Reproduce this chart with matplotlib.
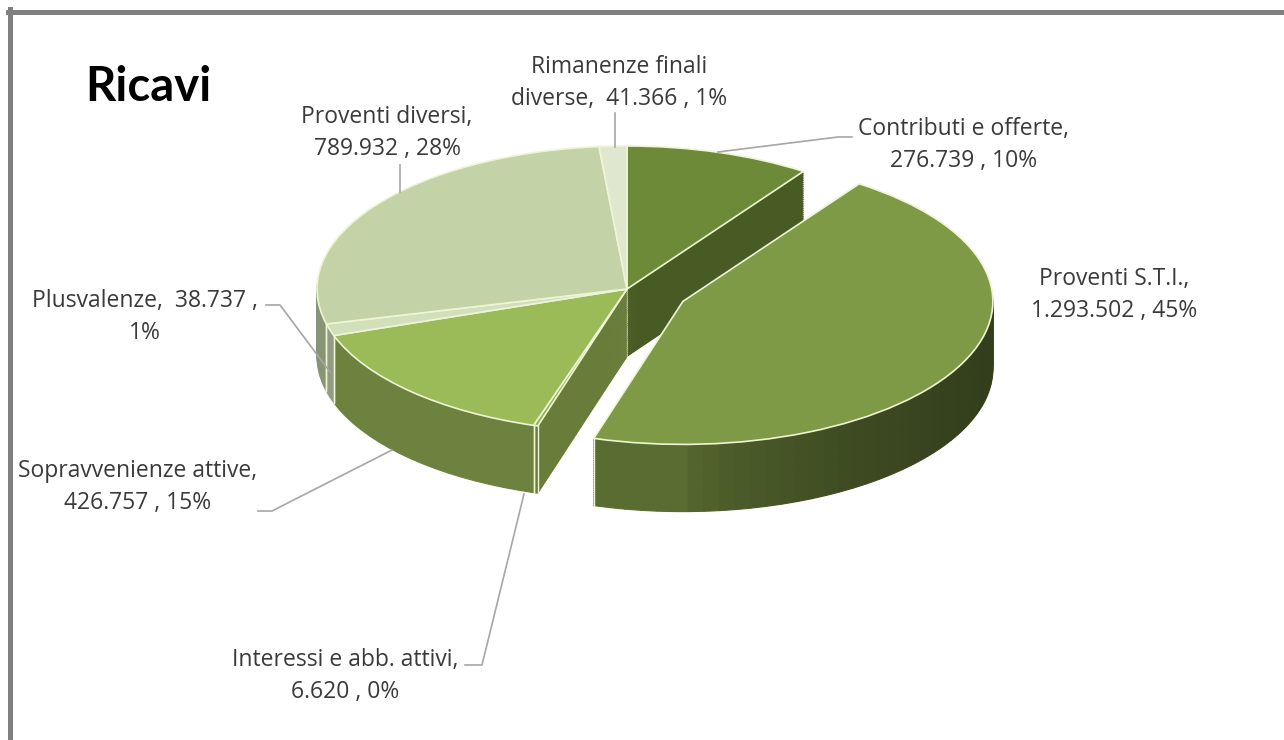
import numpy as np
import matplotlib.pyplot as plt
from matplotlib.patches import Wedge
from matplotlib.collections import PatchCollection
from matplotlib.lines import Line2D
from matplotlib.colors import to_rgb

# data
names = ['Contributi e offerte', 'Proventi S.T.I.', 'Interessi e abb. attivi',
         'Sopravvenienze attive', 'Plusvalenze', 'Proventi diversi',
         'Rimanenze finali\ndiverse']
values = [276739, 1293502, 6620, 426757, 38737, 789932, 41366]
percents = ['10%', '45%', '0%', '15%', '1%', '28%', '1%']
explode = [0, 0.2, 0, 0, 0, 0, 0]

top_colors = ['#6d8a38', '#7f9a46', '#94b352', '#9bba58', '#d2dfbb', '#c4d3a7', '#dfe8cf']
edge_color = '#eef5d4'
text_color = '#3a3a3a'
leader_color = '#a6a6a6'

label_fmt = ['{n},\n{v} , {p}', '{n},\n{v} , {p}', '{n},\n{v} , {p}', '{n},\n{v} , {p}',
             '{n},  {v} ,\n{p}', '{n},\n{v} , {p}', '{n},  {v} , {p}']
# label centres and leader paths, in pixels of the 1284x740 picture
label_pos = [(964, 145), (1114, 295), (345, 676), (138, 487), (145, 317), (387, 133), (619, 83)]
leaders = [[(852, 137), (838, 137), (718, 152)],
           None,
           [(465, 665), (482, 665), (524, 494)],
           [(258, 511), (272, 511), (392, 450)],
           [(266, 305), (280, 305), (330, 372)],
           [(400, 165), (400, 192)],
           [(615, 113), (615, 147)]]

W, H = 1284, 740
CX, CY = 627, 289      # pie centre in pixels
SX, SY = 310, 143      # pixel size of one radius, across and down
DEPTH = 0.47           # thickness of the pie, in radius units
N_LAYERS = 36


def px(x, y):
    return (x - CX) / SX, (CY - y) / SY


def shade(phi):
    c = max(np.cos(phi), 0) ** 0.6
    s = max(np.sin(phi), 0)
    return 0.7 - 0.3 * c + 0.2 * s


def fmt_value(v):
    return f"{v:,}".replace(',', '.')


fig = plt.figure(figsize=(W / 100, H / 100), dpi=100)
ax = fig.add_axes([0, 0, 1, 1])

total = float(sum(values))
cum = np.concatenate([[0], np.cumsum(values) / total])

# side walls, built as stacked layers of thin wedges
slices = []
for i in range(len(values)):
    t1 = 90 - cum[i + 1] * 360
    t2 = 90 - cum[i] * 360
    mid = np.radians((t1 + t2) / 2)
    ox, oy = explode[i] * np.cos(mid), explode[i] * np.sin(mid)
    slices.append((t1, t2, ox, oy))

for group in ([i for i in range(len(values)) if explode[i] == 0],
              [i for i in range(len(values)) if explode[i] != 0]):
    for dz in np.linspace(DEPTH, 0, N_LAYERS, endpoint=False):
        patches, cols = [], []
        for i in group:
            t1, t2, ox, oy = slices[i]
            n = max(2, int(np.ceil((t2 - t1) / 3)))
            edges = np.linspace(t1, t2, n + 1)
            base = np.array(to_rgb(top_colors[i]))
            for a, b in zip(edges[:-1], edges[1:]):
                patches.append(Wedge((ox, oy - dz), 1, a, b))
                cols.append(np.clip(base * shade(np.radians((a + b) / 2)), 0, 1))
        ax.add_collection(PatchCollection(patches, facecolors=cols, edgecolors=cols,
                                          linewidths=0.8, zorder=1))

# light vertical edges on the front corners
for i in range(len(values)):
    t1, t2, ox, oy = slices[i]
    for t in (t1, t2):
        r = np.radians(t)
        if np.sin(r) < -0.05:
            x0, y0 = ox + np.cos(r), oy + np.sin(r)
            ax.plot([x0, x0], [y0, y0 - DEPTH], color=edge_color, lw=1, zorder=2)

# top faces
ax.pie(values, explode=explode, colors=top_colors, startangle=90, counterclock=False,
       radius=1, wedgeprops=dict(edgecolor=edge_color, linewidth=1.2, zorder=3))

# labels and leader lines
for i in range(len(values)):
    txt = label_fmt[i].format(n=names[i], v=fmt_value(values[i]), p=percents[i])
    ax.text(*px(*label_pos[i]), txt, ha='center', va='center', fontsize=16.5,
            family='Open Sans', color=text_color, linespacing=1.4, zorder=5)
    if leaders[i] is not None:
        pts = [px(x, y) for x, y in leaders[i]]
        ax.plot([p[0] for p in pts], [p[1] for p in pts], color=leader_color,
                lw=1.2, zorder=4)

ax.text(*px(85, 87), 'Ricavi', ha='left', va='center', fontsize=34,
        family='Lato', weight='bold', color='black')

ax.set_aspect('auto')
ax.set_xlim(px(0, 0)[0], px(W, 0)[0])
ax.set_ylim(px(0, H)[1], px(0, 0)[1])
ax.axis('off')

# frame of the screenshot
fig.add_artist(Line2D([8 / W, 1], [1 - 11.5 / H] * 2, transform=fig.transFigure,
                      color='#7f7f7f', lw=3.6))
fig.add_artist(Line2D([10.5 / W] * 2, [0, 1 - 9 / H], transform=fig.transFigure,
                      color='#7f7f7f', lw=3.6))

fig.savefig('out.png', dpi=100, facecolor='white')
